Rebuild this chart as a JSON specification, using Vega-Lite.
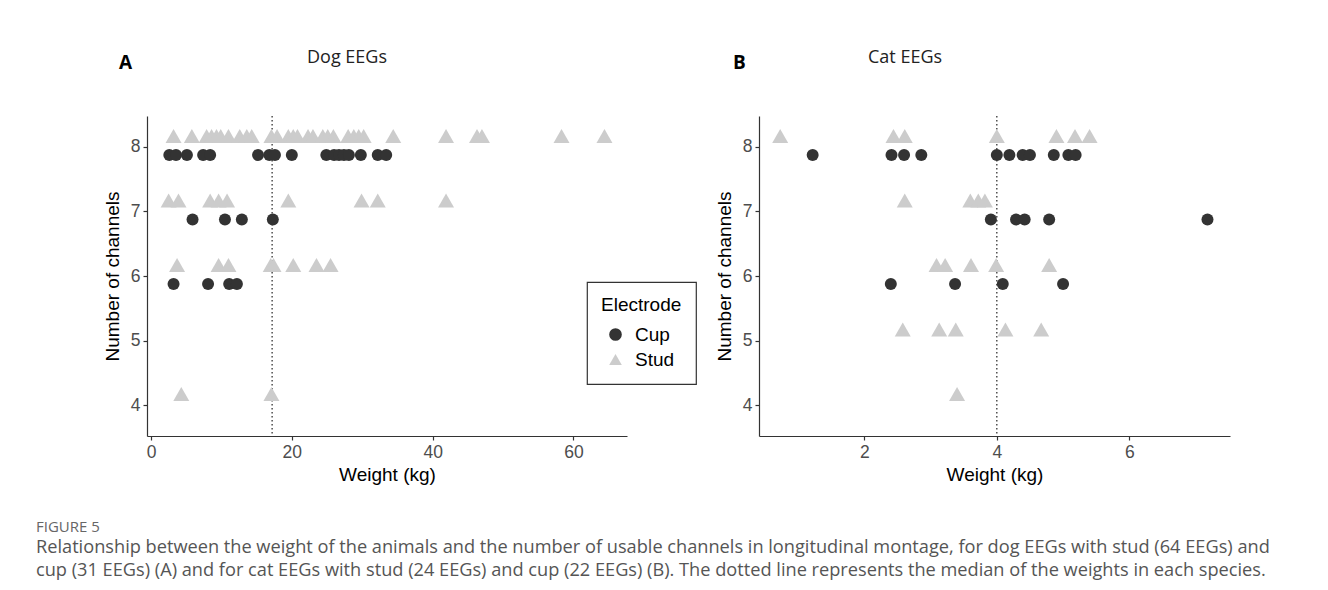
{
  "$schema": "https://vega.github.io/schema/vega-lite/v6.json",
  "background": "white",
  "padding": {"left": 36, "top": 49, "right": 5, "bottom": 8},
  "datasets": {
    "eeg": [
      {"species": "Dog", "electrode": "Stud", "channels": 8, "weight": 3.2},
      {"species": "Dog", "electrode": "Stud", "channels": 8, "weight": 5.8},
      {"species": "Dog", "electrode": "Stud", "channels": 8, "weight": 7.9},
      {"species": "Dog", "electrode": "Stud", "channels": 8, "weight": 8.6},
      {"species": "Dog", "electrode": "Stud", "channels": 8, "weight": 9.3},
      {"species": "Dog", "electrode": "Stud", "channels": 8, "weight": 9.9},
      {"species": "Dog", "electrode": "Stud", "channels": 8, "weight": 11.0},
      {"species": "Dog", "electrode": "Stud", "channels": 8, "weight": 12.6},
      {"species": "Dog", "electrode": "Stud", "channels": 8, "weight": 13.6},
      {"species": "Dog", "electrode": "Stud", "channels": 8, "weight": 14.3},
      {"species": "Dog", "electrode": "Stud", "channels": 8, "weight": 17.1},
      {"species": "Dog", "electrode": "Stud", "channels": 8, "weight": 17.9},
      {"species": "Dog", "electrode": "Stud", "channels": 8, "weight": 19.5},
      {"species": "Dog", "electrode": "Stud", "channels": 8, "weight": 20.2},
      {"species": "Dog", "electrode": "Stud", "channels": 8, "weight": 20.8},
      {"species": "Dog", "electrode": "Stud", "channels": 8, "weight": 22.3},
      {"species": "Dog", "electrode": "Stud", "channels": 8, "weight": 23.0},
      {"species": "Dog", "electrode": "Stud", "channels": 8, "weight": 24.4},
      {"species": "Dog", "electrode": "Stud", "channels": 8, "weight": 25.1},
      {"species": "Dog", "electrode": "Stud", "channels": 8, "weight": 25.9},
      {"species": "Dog", "electrode": "Stud", "channels": 8, "weight": 28.0},
      {"species": "Dog", "electrode": "Stud", "channels": 8, "weight": 28.8},
      {"species": "Dog", "electrode": "Stud", "channels": 8, "weight": 29.5},
      {"species": "Dog", "electrode": "Stud", "channels": 8, "weight": 30.2},
      {"species": "Dog", "electrode": "Stud", "channels": 8, "weight": 34.4},
      {"species": "Dog", "electrode": "Stud", "channels": 8, "weight": 41.9},
      {"species": "Dog", "electrode": "Stud", "channels": 8, "weight": 46.3},
      {"species": "Dog", "electrode": "Stud", "channels": 8, "weight": 47.0},
      {"species": "Dog", "electrode": "Stud", "channels": 8, "weight": 58.3},
      {"species": "Dog", "electrode": "Stud", "channels": 8, "weight": 64.4},
      {"species": "Dog", "electrode": "Stud", "channels": 7, "weight": 2.5},
      {"species": "Dog", "electrode": "Stud", "channels": 7, "weight": 3.9},
      {"species": "Dog", "electrode": "Stud", "channels": 7, "weight": 8.4},
      {"species": "Dog", "electrode": "Stud", "channels": 7, "weight": 9.6},
      {"species": "Dog", "electrode": "Stud", "channels": 7, "weight": 10.8},
      {"species": "Dog", "electrode": "Stud", "channels": 7, "weight": 19.5},
      {"species": "Dog", "electrode": "Stud", "channels": 7, "weight": 29.9},
      {"species": "Dog", "electrode": "Stud", "channels": 7, "weight": 32.2},
      {"species": "Dog", "electrode": "Stud", "channels": 7, "weight": 41.9},
      {"species": "Dog", "electrode": "Stud", "channels": 6, "weight": 3.7},
      {"species": "Dog", "electrode": "Stud", "channels": 6, "weight": 9.6},
      {"species": "Dog", "electrode": "Stud", "channels": 6, "weight": 11.0},
      {"species": "Dog", "electrode": "Stud", "channels": 6, "weight": 17.0},
      {"species": "Dog", "electrode": "Stud", "channels": 6, "weight": 17.4},
      {"species": "Dog", "electrode": "Stud", "channels": 6, "weight": 20.2},
      {"species": "Dog", "electrode": "Stud", "channels": 6, "weight": 23.5},
      {"species": "Dog", "electrode": "Stud", "channels": 6, "weight": 25.5},
      {"species": "Dog", "electrode": "Stud", "channels": 4, "weight": 4.3},
      {"species": "Dog", "electrode": "Stud", "channels": 4, "weight": 17.1},
      {"species": "Dog", "electrode": "Cup", "channels": 8, "weight": 2.6},
      {"species": "Dog", "electrode": "Cup", "channels": 8, "weight": 3.55},
      {"species": "Dog", "electrode": "Cup", "channels": 8, "weight": 5.1},
      {"species": "Dog", "electrode": "Cup", "channels": 8, "weight": 7.4},
      {"species": "Dog", "electrode": "Cup", "channels": 8, "weight": 8.4},
      {"species": "Dog", "electrode": "Cup", "channels": 8, "weight": 15.2},
      {"species": "Dog", "electrode": "Cup", "channels": 8, "weight": 16.8},
      {"species": "Dog", "electrode": "Cup", "channels": 8, "weight": 17.6},
      {"species": "Dog", "electrode": "Cup", "channels": 8, "weight": 20.0},
      {"species": "Dog", "electrode": "Cup", "channels": 8, "weight": 24.9},
      {"species": "Dog", "electrode": "Cup", "channels": 8, "weight": 26.0},
      {"species": "Dog", "electrode": "Cup", "channels": 8, "weight": 26.7},
      {"species": "Dog", "electrode": "Cup", "channels": 8, "weight": 27.4},
      {"species": "Dog", "electrode": "Cup", "channels": 8, "weight": 28.1},
      {"species": "Dog", "electrode": "Cup", "channels": 8, "weight": 29.8},
      {"species": "Dog", "electrode": "Cup", "channels": 8, "weight": 32.2},
      {"species": "Dog", "electrode": "Cup", "channels": 8, "weight": 33.4},
      {"species": "Dog", "electrode": "Cup", "channels": 7, "weight": 5.9},
      {"species": "Dog", "electrode": "Cup", "channels": 7, "weight": 10.5},
      {"species": "Dog", "electrode": "Cup", "channels": 7, "weight": 12.9},
      {"species": "Dog", "electrode": "Cup", "channels": 7, "weight": 17.3},
      {"species": "Dog", "electrode": "Cup", "channels": 6, "weight": 3.2},
      {"species": "Dog", "electrode": "Cup", "channels": 6, "weight": 8.1},
      {"species": "Dog", "electrode": "Cup", "channels": 6, "weight": 11.1},
      {"species": "Dog", "electrode": "Cup", "channels": 6, "weight": 12.2},
      {"species": "Cat", "electrode": "Stud", "channels": 8, "weight": 0.73},
      {"species": "Cat", "electrode": "Stud", "channels": 8, "weight": 2.44},
      {"species": "Cat", "electrode": "Stud", "channels": 8, "weight": 2.61},
      {"species": "Cat", "electrode": "Stud", "channels": 8, "weight": 4.0},
      {"species": "Cat", "electrode": "Stud", "channels": 8, "weight": 4.9},
      {"species": "Cat", "electrode": "Stud", "channels": 8, "weight": 5.18},
      {"species": "Cat", "electrode": "Stud", "channels": 8, "weight": 5.4},
      {"species": "Cat", "electrode": "Stud", "channels": 7, "weight": 2.61},
      {"species": "Cat", "electrode": "Stud", "channels": 7, "weight": 3.6},
      {"species": "Cat", "electrode": "Stud", "channels": 7, "weight": 3.72},
      {"species": "Cat", "electrode": "Stud", "channels": 7, "weight": 3.82},
      {"species": "Cat", "electrode": "Stud", "channels": 6, "weight": 3.09},
      {"species": "Cat", "electrode": "Stud", "channels": 6, "weight": 3.22},
      {"species": "Cat", "electrode": "Stud", "channels": 6, "weight": 3.61},
      {"species": "Cat", "electrode": "Stud", "channels": 6, "weight": 3.99},
      {"species": "Cat", "electrode": "Stud", "channels": 6, "weight": 4.79},
      {"species": "Cat", "electrode": "Stud", "channels": 5, "weight": 2.58},
      {"species": "Cat", "electrode": "Stud", "channels": 5, "weight": 3.13},
      {"species": "Cat", "electrode": "Stud", "channels": 5, "weight": 3.38},
      {"species": "Cat", "electrode": "Stud", "channels": 5, "weight": 4.13},
      {"species": "Cat", "electrode": "Stud", "channels": 5, "weight": 4.67},
      {"species": "Cat", "electrode": "Stud", "channels": 4, "weight": 3.4},
      {"species": "Cat", "electrode": "Cup", "channels": 8, "weight": 1.22},
      {"species": "Cat", "electrode": "Cup", "channels": 8, "weight": 2.41},
      {"species": "Cat", "electrode": "Cup", "channels": 8, "weight": 2.6},
      {"species": "Cat", "electrode": "Cup", "channels": 8, "weight": 2.86},
      {"species": "Cat", "electrode": "Cup", "channels": 8, "weight": 4.0},
      {"species": "Cat", "electrode": "Cup", "channels": 8, "weight": 4.19},
      {"species": "Cat", "electrode": "Cup", "channels": 8, "weight": 4.39},
      {"species": "Cat", "electrode": "Cup", "channels": 8, "weight": 4.5},
      {"species": "Cat", "electrode": "Cup", "channels": 8, "weight": 4.86},
      {"species": "Cat", "electrode": "Cup", "channels": 8, "weight": 5.08},
      {"species": "Cat", "electrode": "Cup", "channels": 8, "weight": 5.19},
      {"species": "Cat", "electrode": "Cup", "channels": 7, "weight": 3.91},
      {"species": "Cat", "electrode": "Cup", "channels": 7, "weight": 4.29},
      {"species": "Cat", "electrode": "Cup", "channels": 7, "weight": 4.42},
      {"species": "Cat", "electrode": "Cup", "channels": 7, "weight": 4.79},
      {"species": "Cat", "electrode": "Cup", "channels": 7, "weight": 7.18},
      {"species": "Cat", "electrode": "Cup", "channels": 6, "weight": 2.4},
      {"species": "Cat", "electrode": "Cup", "channels": 6, "weight": 3.37},
      {"species": "Cat", "electrode": "Cup", "channels": 6, "weight": 4.09},
      {"species": "Cat", "electrode": "Cup", "channels": 6, "weight": 5.0}
    ],
    "medians": [
      {"species": "Dog", "weight": 17.2},
      {"species": "Cat", "weight": 4.0}
    ]
  },
  "title": {
    "text": "FIGURE 5",
    "subtitle": [
      "Relationship between the weight of the animals and the number of usable channels in longitudinal montage, for dog EEGs with stud (64 EEGs) and",
      "cup (31 EEGs) (A) and for cat EEGs with stud (24 EEGs) and cup (22 EEGs) (B). The dotted line represents the median of the weights in each species."
    ],
    "orient": "bottom",
    "anchor": "start",
    "frame": "group",
    "dx": -111,
    "offset": 35,
    "font": "Open Sans",
    "fontSize": 15,
    "fontWeight": "normal",
    "color": "#666666",
    "subtitleFont": "Open Sans",
    "subtitleFontSize": 18.2,
    "subtitleColor": "#555555",
    "subtitlePadding": 4,
    "subtitleLineHeight": 23
  },
  "spacing": 18,
  "hconcat": [
    {
      "title": {"text": "A", "anchor": "start", "frame": "group", "dx": -28, "dy": 24, "offset": 0, "font": "Open Sans", "fontSize": 19, "fontWeight": "bold", "color": "#000000"},
      "vconcat": [
        {
          "title": {"text": "Dog EEGs", "anchor": "start", "frame": "group", "dx": 160, "offset": 48, "font": "Open Sans", "fontSize": 18, "fontWeight": "normal", "color": "#222222"},
          "width": 480,
          "height": 320,
          "layer": [
            {
              "data": {"name": "medians"},
              "transform": [{"filter": "datum.species === 'Dog'"}],
              "mark": {"type": "rule", "color": "#333333", "strokeWidth": 1.3, "strokeDash": [1.5, 2.5]},
              "encoding": {
                "x": {"field": "weight", "type": "quantitative", "title": "Weight (kg)", "scale": {"domain": [-0.57, 67.6], "nice": false, "zero": false}, "axis": {"values": [0, 20, 40, 60], "titlePadding": 5}}
              }
            },
            {
              "data": {"name": "eeg"},
              "transform": [{"filter": "datum.species === 'Dog' && datum.electrode === 'Cup'"}],
              "mark": {"type": "point", "filled": true, "opacity": 1, "size": 144, "yOffset": 8},
              "encoding": {
                "x": {"field": "weight", "type": "quantitative", "title": "Weight (kg)", "scale": {"domain": [-0.57, 67.6], "nice": false, "zero": false}, "axis": {"values": [0, 20, 40, 60], "titlePadding": 5}},
                "y": {"field": "channels", "type": "quantitative", "title": "Number of channels", "scale": {"domain": [3.52, 8.48], "nice": false, "zero": false}, "axis": {"values": [4, 5, 6, 7, 8], "format": "d", "titlePadding": 8}},
                "color": {"field": "electrode", "type": "nominal", "title": "Electrode", "scale": {"domain": ["Cup", "Stud"], "range": ["#333333", "#cccccc"]}, "legend": {"orient": "none", "legendX": 440, "legendY": 166}},
                "shape": {"field": "electrode", "type": "nominal", "title": "Electrode", "scale": {"domain": ["Cup", "Stud"], "range": ["circle", "triangle-up"]}, "legend": {"orient": "none", "legendX": 440, "legendY": 166}}
              }
            },
            {
              "data": {"name": "eeg"},
              "transform": [{"filter": "datum.species === 'Dog' && datum.electrode === 'Stud'"}],
              "mark": {"type": "point", "filled": true, "opacity": 1, "size": 256, "yOffset": -11},
              "encoding": {
                "x": {"field": "weight", "type": "quantitative", "title": "Weight (kg)", "scale": {"domain": [-0.57, 67.6], "nice": false, "zero": false}, "axis": {"values": [0, 20, 40, 60], "titlePadding": 5}},
                "y": {"field": "channels", "type": "quantitative", "title": "Number of channels", "scale": {"domain": [3.52, 8.48], "nice": false, "zero": false}, "axis": {"values": [4, 5, 6, 7, 8], "format": "d", "titlePadding": 8}},
                "color": {"field": "electrode", "type": "nominal", "title": "Electrode", "scale": {"domain": ["Cup", "Stud"], "range": ["#333333", "#cccccc"]}},
                "shape": {"field": "electrode", "type": "nominal", "title": "Electrode", "scale": {"domain": ["Cup", "Stud"], "range": ["circle", "triangle-up"]}}
              }
            }
          ]
        }
      ]
    },
    {
      "title": {"text": "B", "anchor": "start", "frame": "group", "dx": -26, "dy": 24, "offset": 0, "font": "Open Sans", "fontSize": 19, "fontWeight": "bold", "color": "#000000"},
      "vconcat": [
        {
          "title": {"text": "Cat EEGs", "anchor": "start", "frame": "group", "dx": 109, "offset": 48, "font": "Open Sans", "fontSize": 18, "fontWeight": "normal", "color": "#222222"},
          "width": 471,
          "height": 320,
          "layer": [
            {
              "data": {"name": "medians"},
              "transform": [{"filter": "datum.species === 'Cat'"}],
              "mark": {"type": "rule", "color": "#333333", "strokeWidth": 1.3, "strokeDash": [1.5, 2.5]},
              "encoding": {
                "x": {"field": "weight", "type": "quantitative", "title": "Weight (kg)", "scale": {"domain": [0.41, 7.52], "nice": false, "zero": false}, "axis": {"values": [2, 4, 6], "titlePadding": 5}}
              }
            },
            {
              "data": {"name": "eeg"},
              "transform": [{"filter": "datum.species === 'Cat' && datum.electrode === 'Cup'"}],
              "mark": {"type": "point", "filled": true, "opacity": 1, "size": 144, "yOffset": 8},
              "encoding": {
                "x": {"field": "weight", "type": "quantitative", "title": "Weight (kg)", "scale": {"domain": [0.41, 7.52], "nice": false, "zero": false}, "axis": {"values": [2, 4, 6], "titlePadding": 5}},
                "y": {"field": "channels", "type": "quantitative", "title": "Number of channels", "scale": {"domain": [3.52, 8.48], "nice": false, "zero": false}, "axis": {"values": [4, 5, 6, 7, 8], "format": "d", "titlePadding": 8}},
                "color": {"field": "electrode", "type": "nominal", "scale": {"domain": ["Cup", "Stud"], "range": ["#333333", "#cccccc"]}, "legend": null},
                "shape": {"field": "electrode", "type": "nominal", "scale": {"domain": ["Cup", "Stud"], "range": ["circle", "triangle-up"]}, "legend": null}
              }
            },
            {
              "data": {"name": "eeg"},
              "transform": [{"filter": "datum.species === 'Cat' && datum.electrode === 'Stud'"}],
              "mark": {"type": "point", "filled": true, "opacity": 1, "size": 256, "yOffset": -11},
              "encoding": {
                "x": {"field": "weight", "type": "quantitative", "title": "Weight (kg)", "scale": {"domain": [0.41, 7.52], "nice": false, "zero": false}, "axis": {"values": [2, 4, 6], "titlePadding": 5}},
                "y": {"field": "channels", "type": "quantitative", "title": "Number of channels", "scale": {"domain": [3.52, 8.48], "nice": false, "zero": false}, "axis": {"values": [4, 5, 6, 7, 8], "format": "d", "titlePadding": 8}},
                "color": {"field": "electrode", "type": "nominal", "scale": {"domain": ["Cup", "Stud"], "range": ["#333333", "#cccccc"]}, "legend": null},
                "shape": {"field": "electrode", "type": "nominal", "scale": {"domain": ["Cup", "Stud"], "range": ["circle", "triangle-up"]}, "legend": null}
              }
            }
          ]
        }
      ]
    }
  ],
  "resolve": {
    "scale": {"x": "independent", "y": "independent", "color": "independent", "shape": "independent"},
    "legend": {"color": "independent", "shape": "independent"}
  },
  "config": {
    "view": {"stroke": null},
    "axis": {
      "grid": false,
      "domainColor": "#333333",
      "domainWidth": 1.2,
      "tickColor": "#333333",
      "tickWidth": 1.2,
      "tickSize": 4,
      "labelFont": "Liberation Sans",
      "labelFontSize": 17.5,
      "labelColor": "#4d4d4d",
      "labelPadding": 3,
      "titleFont": "Liberation Sans",
      "titleFontSize": 19,
      "titleFontWeight": "normal",
      "titleColor": "#000000"
    },
    "legend": {
      "titleFont": "Liberation Sans",
      "titleFontSize": 19,
      "titleFontWeight": "normal",
      "titleColor": "#000000",
      "labelFont": "Liberation Sans",
      "labelFontSize": 19,
      "labelColor": "#000000",
      "symbolSize": 160,
      "symbolStrokeWidth": 0,
      "symbolOffset": 5,
      "padding": 14,
      "rowPadding": 5,
      "titlePadding": 10,
      "strokeColor": "#333333",
      "fillColor": "#ffffff",
      "strokeWidth": 1.2,
      "labelOffset": 10
    }
  }
}
